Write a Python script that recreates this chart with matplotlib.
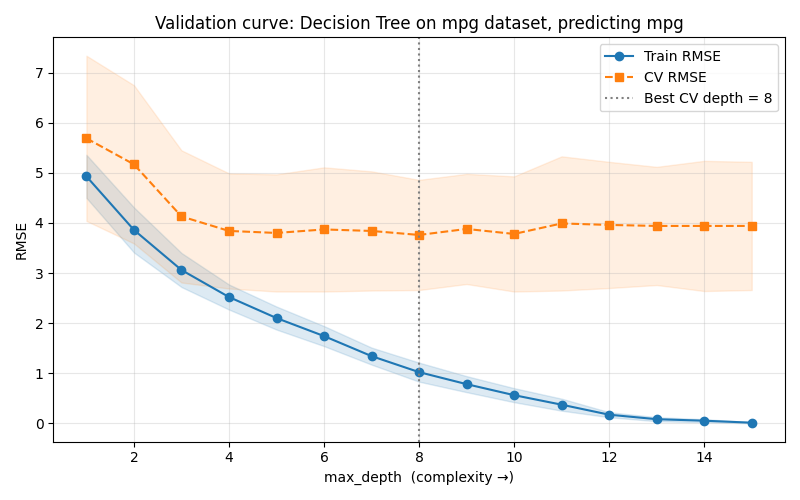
import numpy as np
import matplotlib
matplotlib.use("Agg")
import matplotlib.pyplot as plt

# max_depth 값
depths = np.arange(1, 16)

# 학습 RMSE (평균, 표준편차)
train_mean = [4.93, 3.86, 3.06, 2.52, 2.10, 1.74, 1.34, 1.02, 0.78, 0.56, 0.37, 0.17, 0.08, 0.05, 0.01]
train_std = [0.43, 0.45, 0.34, 0.25, 0.23, 0.20, 0.17, 0.19, 0.16, 0.14, 0.12, 0.05, 0.04, 0.03, 0.01]

# 교차검증 RMSE (평균, 표준편차)
cv_mean = [5.69, 5.17, 4.13, 3.84, 3.80, 3.87, 3.84, 3.76, 3.88, 3.78, 3.99, 3.96, 3.94, 3.94, 3.94]
cv_std = [1.65, 1.58, 1.32, 1.15, 1.17, 1.24, 1.19, 1.10, 1.10, 1.15, 1.34, 1.26, 1.18, 1.30, 1.28]

best_depth = 8

train_mean = np.array(train_mean)
train_std = np.array(train_std)
cv_mean = np.array(cv_mean)
cv_std = np.array(cv_std)

fig, ax = plt.subplots(figsize=(8, 5), dpi=100)

ax.plot(depths, train_mean, marker='o', color='#1f77b4', label='Train RMSE')
ax.fill_between(depths, train_mean - train_std, train_mean + train_std, color='#1f77b4', alpha=0.15)

ax.plot(depths, cv_mean, marker='s', linestyle='--', color='#ff7f0e', label='CV RMSE')
ax.fill_between(depths, cv_mean - cv_std, cv_mean + cv_std, color='#ff7f0e', alpha=0.12)

ax.axvline(best_depth, color='gray', linestyle=':', label=f'Best CV depth = {best_depth}')

ax.set_xlabel('max_depth  (complexity →)')
ax.set_ylabel('RMSE')
ax.set_title('Validation curve: Decision Tree on mpg dataset, predicting mpg')
ax.grid(True, alpha=0.3)
ax.legend(loc='upper right')

fig.tight_layout()
fig.savefig('out.png')
